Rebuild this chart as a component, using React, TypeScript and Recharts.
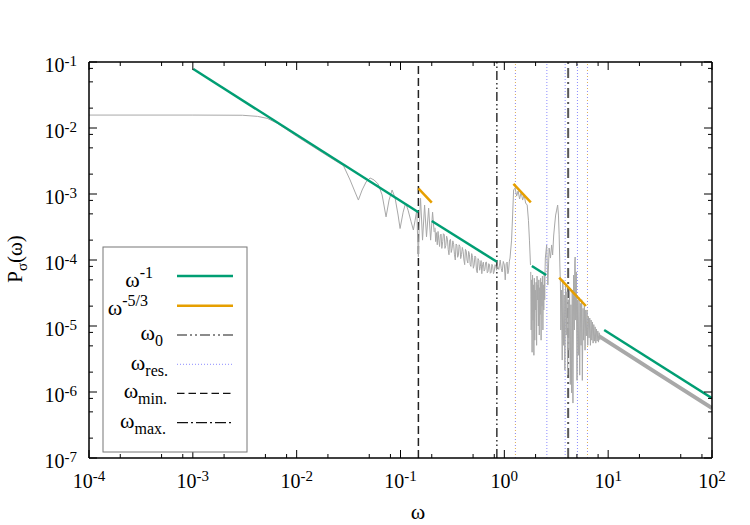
import React from 'react';
import { LineChart, Line, XAxis, YAxis, ReferenceLine } from 'recharts';

const FONT = '"Liberation Serif", "Times New Roman", Times, serif';

const xDomain = [1e-4, 100];
const yDomain = [1e-7, 1e-1];
const xTicks = [1e-4, 2e-4, 5e-4, 8e-4, 1e-3, 2e-3, 5e-3, 8e-3, 1e-2, 2e-2, 5e-2, 8e-2, 1e-1, 2e-1, 5e-1, 8e-1, 1, 2, 5, 8, 10, 20, 50, 80, 100];
const yTicks = [1e-7, 2e-7, 5e-7, 8e-7, 1e-6, 2e-6, 5e-6, 8e-6, 1e-5, 2e-5, 5e-5, 8e-5, 1e-4, 2e-4, 5e-4, 8e-4, 1e-3, 2e-3, 5e-3, 8e-3, 1e-2, 2e-2, 5e-2, 8e-2, 1e-1];

// gray spectrum P_sigma(omega): [omega, P]
const spectrumLow: [number, number][] = [
  [1e-4, 0.0157], [1e-3, 0.0157], [3.0e-3, 0.0156], [4.2e-3, 0.015], [5.2e-3, 0.014], [6.5e-3, 0.0118],
  [1.0e-2, 7.5e-3], [1.5e-2, 5.0e-3], [2.0e-2, 3.75e-3], [2.6e-2, 2.9e-3],
  [0.0282, 2.7e-3], [0.0327, 1.63e-3], [0.0365, 1.07e-3], [0.0393, 8.1e-4], [0.0427, 1.15e-3], [0.0466, 1.52e-3],
  [0.0509, 1.75e-3], [0.0557, 1.63e-3], [0.0608, 1.42e-3], [0.0665, 9.7e-4], [0.0726, 4.5e-4], [0.0776, 8.1e-4],
  [0.083, 1.15e-3], [0.0887, 8.7e-4], [0.0948, 4.8e-4], [0.0991, 3.0e-4], [0.106, 5.3e-4], [0.112, 7.3e-4],
  [0.1183, 5.7e-4], [0.1265, 3.8e-4], [0.133, 2.85e-4], [0.1383, 4.0e-4], [0.1435, 5.7e-4], [0.1459, 2.4e-4],
  [0.1486, 1.12e-4], [0.151, 2.85e-4], [0.156, 8.6e-4], [0.163, 2.0e-4], [0.1706, 6.8e-4], [0.178, 2.25e-4],
  [0.1866, 6.1e-4], [0.195, 2.0e-4], [0.2037, 5.3e-4], [0.211, 2.65e-4],
];
const spectrumMid: [number, number][] = [
  [0.215, 3.08e-4], [0.218, 1.9e-4], [0.222, 2.6e-4], [0.226, 1.7e-4], [0.23, 2.71e-4], [0.234, 2.0e-4],
  [0.238, 1.6e-4], [0.242, 2.4e-4], [0.246, 2.47e-4], [0.25, 1.5e-4], [0.255, 1.9e-4], [0.259, 2.5e-4],
  [0.264, 2.42e-4], [0.268, 1.5e-4], [0.273, 1.66e-4], [0.278, 2.3e-4], [0.283, 2.07e-4], [0.288, 1.45e-4],
  [0.293, 1.2e-4], [0.298, 2.0e-4], [0.303, 2.06e-4], [0.308, 1.3e-4], [0.314, 1.49e-4], [0.319, 1.95e-4],
  [0.325, 1.73e-4], [0.331, 1.2e-4], [0.337, 1.0e-4], [0.343, 1.75e-4], [0.349, 1.68e-4], [0.355, 1.1e-4],
  [0.361, 1.19e-4], [0.367, 1.7e-4], [0.374, 1.6e-4], [0.38, 1.05e-4], [0.387, 1.21e-4], [0.394, 1.55e-4],
  [0.401, 1.36e-4], [0.408, 1.0e-4], [0.415, 8.5e-5], [0.422, 1.45e-4], [0.43, 1.36e-4], [0.437, 1.0e-4],
  [0.445, 9.0e-5], [0.453, 1.35e-4], [0.461, 1.22e-4], [0.469, 8.5e-5], [0.477, 8.0e-5], [0.485, 1.25e-4],
  [0.494, 1.1e-4], [0.503, 7.5e-5], [0.512, 8.4e-5], [0.521, 1.15e-4], [0.53, 1.1e-4], [0.539, 7.0e-5],
  [0.549, 6.4e-5], [0.558, 1.05e-4], [0.568, 9.9e-5], [0.578, 7.0e-5], [0.588, 8.0e-5], [0.597, 9.8e-5],
  [0.607, 6.2e-5], [0.617, 8.5e-5], [0.628, 9.3e-5], [0.639, 6.8e-5], [0.65, 7.2e-5], [0.661, 9.2e-5],
  [0.673, 9.3e-5], [0.685, 6.4e-5], [0.697, 6.7e-5], [0.708, 8.8e-5], [0.72, 8.4e-5], [0.733, 6.3e-5],
  [0.746, 6.5e-5], [0.759, 8.6e-5], [0.772, 8.1e-5], [0.786, 6.2e-5], [0.8, 6.8e-5], [0.814, 8.5e-5],
  [0.828, 8.0e-5], [0.842, 7.0e-5], [0.857, 8.2e-5],
  [0.885, 7.2e-5], [0.912, 1.0e-4], [0.933, 7.5e-5], [0.953, 6.6e-5], [0.977, 9.5e-5], [1.0, 8.4e-5], [1.02, 5.0e-5],
  [1.042, 8.8e-5], [1.064, 9.3e-5], [1.082, 6.2e-5], [1.1, 7.0e-5], [1.118, 9.6e-5], [1.134, 1.07e-4], [1.174, 2.0e-4],
  [1.202, 4.8e-4], [1.228, 1.15e-3], [1.27, 1.23e-3], [1.313, 9.3e-4], [1.358, 1.11e-3], [1.404, 8.4e-4],
  [1.452, 1.07e-3], [1.5, 8.1e-4], [1.552, 9.7e-4], [1.604, 7.3e-4], [1.66, 6.8e-4], [1.707, 4.0e-4],
  [1.745, 2.0e-4], [1.786, 8.4e-5],
];
const spectrumHigh: [number, number][] = [
  [1.796, 6.6e-5], [1.814, 8.7e-6], [1.832, 5.0e-5], [1.851, 4.0e-6], [1.869, 5.9e-5], [1.888, 1.23e-5],
  [1.907, 4.2e-5], [1.926, 3.6e-6], [1.945, 5.3e-5], [1.965, 6.1e-6], [1.985, 3.5e-5], [2.005, 1.75e-5],
  [2.025, 4.6e-5], [2.045, 5.1e-6], [2.066, 5.7e-5], [2.086, 2.5e-5], [2.107, 4.2e-5], [2.128, 1.0e-5],
  [2.15, 5.0e-5], [2.171, 7.3e-6], [2.193, 3.8e-5], [2.215, 1.5e-5], [2.237, 5.3e-5], [2.26, 6.1e-6],
  [2.282, 4.6e-5], [2.305, 2.0e-5], [2.328, 5.7e-5], [2.352, 8.7e-6], [2.375, 4.2e-5], [2.399, 1.75e-5],
  [2.423, 6.0e-5], [2.448, 2.5e-5], [2.472, 8.0e-5],
  [2.483, 1.07e-4], [2.556, 1.69e-4], [2.625, 4.2e-5], [2.701, 1.52e-4], [2.781, 1.07e-4], [2.855, 1.69e-4],
  [2.919, 1.19e-4], [2.985, 2.31e-4], [3.052, 3.39e-4], [3.12, 4.8e-4], [3.19, 5.7e-4], [3.262, 6.8e-4],
  [3.32, 4.8e-4], [3.372, 2.4e-4], [3.425, 8.4e-5], [3.471, 4.2e-5],
  [3.5, 8.7e-6], [3.55, 3.5e-5], [3.61, 3.05e-6], [3.66, 5.0e-5], [3.72, 5.1e-6], [3.77, 2.95e-5],
  [3.83, 2.15e-6], [3.89, 4.2e-5], [3.95, 7.3e-6], [4.01, 3.3e-5], [4.07, 1.8e-6], [4.13, 2.5e-5],
  [4.19, 4.3e-6], [4.25, 3.8e-5], [4.32, 1.3e-6], [4.38, 2.1e-5], [4.45, 9.7e-7], [4.51, 3.5e-5],
  [4.58, 6.8e-7], [4.65, 5.9e-5], [4.72, 8.7e-6], [4.77, 9.3e-5], [4.81, 1.11e-4], [4.86, 1.23e-5],
  [4.93, 6.6e-5], [5.01, 1.5e-6], [5.08, 2.5e-5], [5.16, 3.6e-6], [5.24, 2.7e-5], [5.32, 1.8e-6],
  [5.4, 2.2e-5], [5.48, 5.1e-6], [5.56, 2.5e-5], [5.64, 1.5e-6], [5.73, 1.85e-5], [5.81, 6.1e-6],
  [5.9, 2.1e-5], [5.99, 4.3e-6], [6.08, 1.75e-5], [6.17, 7.1e-6], [6.26, 1.75e-5], [6.36, 5.1e-6],
  [6.45, 1.4e-5], [6.55, 6.6e-6], [6.65, 1.32e-5], [6.75, 5.1e-6], [6.85, 1.23e-5], [6.95, 6.1e-6],
  [7.06, 1.15e-5], [7.16, 5.5e-6], [7.27, 1.05e-5], [7.38, 5.9e-6], [7.49, 9.7e-6], [7.6, 5.5e-6],
  [7.72, 9.0e-6], [7.83, 5.9e-6], [7.95, 8.4e-6], [8.07, 5.7e-6], [8.19, 7.9e-6], [8.31, 6.1e-6],
];
const spectrumTail: [number, number][] = [[8.1, 7.1e-6], [30, 1.9e-6], [100, 5.7e-7]];

// omega^-1 guide segments
const slopeOneA: [number, number][] = [[1.01e-3, 0.0783], [0.1487, 5.3e-4]];
const slopeOneB: [number, number][] = [[0.2001, 3.9e-4], [0.847, 9.4e-5]];
const slopeOneC: [number, number][] = [[1.841, 8.1e-5], [2.527, 5.93e-5]];
const slopeOneD: [number, number][] = [[9.15, 8.69e-6], [100, 8.03e-7]];
// omega^-5/3 guide segments
const slopeFiveThirdsA: [number, number][] = [[0.1487, 1.22e-3], [0.2001, 7.38e-4]];
const slopeFiveThirdsB: [number, number][] = [[1.224, 1.42e-3], [1.8, 7.48e-4]];
const slopeFiveThirdsC: [number, number][] = [[3.372, 5.4e-5], [6.1, 2.01e-5]];

// vertical markers
const omegaMin = 0.1487;
const omega0 = 0.847;
const omegaMax = 4.118;
const omegaResBlue = [2.567, 3.853, 5.06];
const omegaResMixed = [1.279, 6.32];

const legendLabels = [
  { main: 'ω', sup: '-1' },
  { main: 'ω', sup: '-5/3' },
  { main: 'ω', sub: '0' },
  { main: 'ω', sub: 'res.' },
  { main: 'ω', sub: 'min.' },
  { main: 'ω', sub: 'max.' },
];

const pts = (a: [number, number][]) => a.map(([w, p]) => ({ w, p }));

const isMajor = (v: number) => {
  const e = Math.log10(v);
  return Math.abs(e - Math.round(e)) < 1e-6;
};
const expOf = (v: number) => String(Math.round(Math.log10(v)));

const BottomTick = (props: any) => {
  const { x, y, payload } = props;
  const M = isMajor(payload.value);
  return (
    <g>
      <line x1={x} x2={x} y1={y} y2={y - (M ? 8 : 4)} stroke="#000" strokeWidth={1} />
      {M && (
        <text x={x} y={y + 29.5} textAnchor="middle" fontFamily={FONT} fontSize={20} fill="#000">
          10<tspan dy={-7} fontSize={15}>{expOf(payload.value)}</tspan>
        </text>
      )}
    </g>
  );
};
const TopTick = (props: any) => {
  const { x, y, payload } = props;
  const M = isMajor(payload.value);
  return <line x1={x} x2={x} y1={y} y2={y + (M ? 8 : 4)} stroke="#000" strokeWidth={1} />;
};
const LeftTick = (props: any) => {
  const { x, y, payload } = props;
  const M = isMajor(payload.value);
  return (
    <g>
      <line x1={x} x2={x + (M ? 8 : 4)} y1={y} y2={y} stroke="#000" strokeWidth={1} />
      {M && (
        <text x={x - 12} y={y + 9.5} textAnchor="end" fontFamily={FONT} fontSize={20} fill="#000">
          10<tspan dy={-6} fontSize={15}>{expOf(payload.value)}</tspan>
        </text>
      )}
    </g>
  );
};
const RightTick = (props: any) => {
  const { x, y, payload } = props;
  const M = isMajor(payload.value);
  return <line x1={x} x2={x - (M ? 8 : 4)} y1={y} y2={y} stroke="#000" strokeWidth={1} />;
};

const GREEN = '#009e73';
const ORANGE = '#e69f00';
const GRAY = '#a8a8a8';
const BLUE_DOT = '#8c8cff';

const legendRows = [
  { y: 276, base: 286.5, end: 153, stroke: GREEN, width: 2.5, dash: undefined },
  { y: 305.7, base: 315, end: 148, stroke: ORANGE, width: 2.5, dash: undefined },
  { y: 335, base: 340, end: 163, stroke: '#666', width: 1.5, dash: '10 3 2 3 2 3' },
  { y: 364.3, base: 370, end: 168, stroke: BLUE_DOT, width: 1, dash: '1 2' },
  { y: 393.3, base: 398, end: 167, stroke: '#111', width: 1.2, dash: '7.5 4' },
  { y: 422.7, base: 428, end: 166, stroke: '#111', width: 1.2, dash: '11 3 2 3' },
];

export default function App() {
  const common = { dot: false, isAnimationActive: false, dataKey: 'p', type: 'linear' as const, legendType: 'none' as const };
  return (
    <div style={{ position: 'absolute', left: 0, top: 0, width: 750, height: 525, background: '#fff' }}>
      <LineChart width={750} height={525} margin={{ top: 42, right: 18, bottom: 27, left: 29 }}>
        <XAxis xAxisId={0} dataKey="w" type="number" scale="log" domain={xDomain} allowDataOverflow ticks={xTicks}
          interval={0} tickSize={0} tickMargin={0} tickLine={false} tick={BottomTick} height={40}
          axisLine={{ stroke: '#000', strokeWidth: 1.5 }} />
        <XAxis xAxisId="top" orientation="top" dataKey="w" type="number" scale="log" domain={xDomain} allowDataOverflow ticks={xTicks}
          interval={0} tickSize={0} tickMargin={0} tickLine={false} tick={TopTick} height={20}
          axisLine={{ stroke: '#000', strokeWidth: 1.5 }} />
        <YAxis yAxisId={0} type="number" scale="log" domain={yDomain} allowDataOverflow ticks={yTicks}
          interval={0} tickSize={0} tickMargin={0} tickLine={false} tick={LeftTick} width={60}
          axisLine={{ stroke: '#000', strokeWidth: 1.5 }} />
        <YAxis yAxisId="right" orientation="right" type="number" scale="log" domain={yDomain} allowDataOverflow ticks={yTicks}
          interval={0} tickSize={0} tickMargin={0} tickLine={false} tick={RightTick} width={20}
          axisLine={{ stroke: '#000', strokeWidth: 1.5 }} />

        {omegaResBlue.map((w) => (
          <ReferenceLine key={'rb' + w} x={w} stroke={BLUE_DOT} strokeWidth={1} strokeDasharray="1 2" />
        ))}
        {omegaResMixed.map((w) => (
          <ReferenceLine key={'ro' + w} x={w} stroke="#e0b050" strokeWidth={1} strokeDasharray="1 2" />
        ))}
        {omegaResMixed.map((w) => (
          <ReferenceLine key={'rm' + w} x={w} stroke={BLUE_DOT} strokeWidth={1} strokeDasharray="1 5" />
        ))}
        <ReferenceLine x={omegaMin} stroke="#222" strokeWidth={1.5} strokeDasharray="8 4" />
        <ReferenceLine x={omega0} stroke="#333" strokeWidth={1.5} strokeDasharray="9 3 1.5 3 1.5 3" />
        <ReferenceLine x={omegaMax} stroke="#5a5a5a" strokeWidth={2} strokeDasharray="10 4 2 4" />

        <Line {...common} data={pts(spectrumLow)} stroke={GRAY} strokeWidth={1} />
        <Line {...common} data={pts(spectrumMid)} stroke={GRAY} strokeWidth={1} />
        <Line {...common} data={pts(spectrumHigh)} stroke={GRAY} strokeWidth={1} />
        <Line {...common} data={pts(spectrumTail)} stroke={GRAY} strokeWidth={4} />

        <Line {...common} data={pts(slopeOneA)} stroke={GREEN} strokeWidth={2.5} />
        <Line {...common} data={pts(slopeOneB)} stroke={GREEN} strokeWidth={2.5} />
        <Line {...common} data={pts(slopeOneC)} stroke={GREEN} strokeWidth={2.5} />
        <Line {...common} data={pts(slopeOneD)} stroke={GREEN} strokeWidth={2.5} />
        <Line {...common} data={pts(slopeFiveThirdsA)} stroke={ORANGE} strokeWidth={2.5} />
        <Line {...common} data={pts(slopeFiveThirdsB)} stroke={ORANGE} strokeWidth={2.5} />
        <Line {...common} data={pts(slopeFiveThirdsC)} stroke={ORANGE} strokeWidth={2.5} />
      </LineChart>

      <svg width={750} height={525} style={{ position: 'absolute', left: 0, top: 0, pointerEvents: 'none' }}>
        <text x={418} y={519} textAnchor="middle" fontFamily={FONT} fontSize={22} fill="#000">ω</text>
        <text x={22} y={259} transform="rotate(-90 22 259)" textAnchor="middle" fontFamily={FONT} fontSize={21} fill="#000">
          P<tspan dy={5} fontSize={15}>σ</tspan><tspan dy={-5}>(ω)</tspan>
        </text>
        <rect x={103} y={247} width={144} height={205} fill="#fff" stroke="#777" strokeWidth={1} />
        {legendRows.map((r, i) => {
          const lab = legendLabels[i];
          return (
            <g key={i}>
              <text x={r.end} y={r.base} textAnchor="end" fontFamily={FONT} fontSize={22} fill="#000">
                {lab.main}
                {lab.sup && <tspan dy={-9} fontSize={16}>{lab.sup}</tspan>}
                {lab.sub && <tspan dy={6} fontSize={16}>{lab.sub}</tspan>}
              </text>
              <line x1={177} x2={233} y1={r.y} y2={r.y} stroke={r.stroke} strokeWidth={r.width} strokeDasharray={r.dash} />
            </g>
          );
        })}
      </svg>
    </div>
  );
}
